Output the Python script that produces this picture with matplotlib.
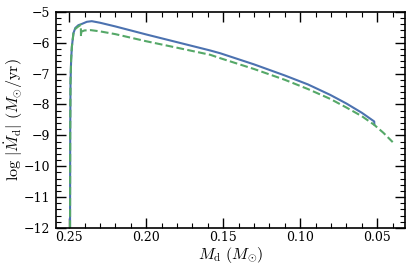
import matplotlib
matplotlib.use("Agg")
import matplotlib.pyplot as plt
from matplotlib.ticker import MultipleLocator

plt.rcParams['font.family'] = 'DejaVu Serif'
plt.rcParams['mathtext.fontset'] = 'cm'

# donor mass (Msun) and log mass transfer rate (Msun/yr)
md_a = [0.2494, 0.2493, 0.2491, 0.2487, 0.2482, 0.2472, 0.2460, 0.2440, 0.2418,
        0.2385, 0.2353, 0.2300, 0.2200, 0.2000, 0.1800, 0.1584, 0.1519, 0.1300,
        0.1100, 0.0950, 0.0805, 0.0700, 0.0600, 0.0520, 0.0519]
log_a = [-12.0, -9.0, -7.3, -6.55, -6.12, -5.69, -5.52, -5.43, -5.39,
         -5.32, -5.30, -5.35, -5.47, -5.73, -5.98, -6.25, -6.34, -6.70,
         -7.06, -7.35, -7.69, -7.97, -8.27, -8.55, -8.65]

md_b = [0.2494, 0.2493, 0.2491, 0.2487, 0.2482, 0.2472, 0.2460, 0.2440, 0.2424,
        0.2423, 0.2421, 0.2400, 0.2360, 0.2300, 0.2200, 0.2000, 0.1800, 0.1584,
        0.1519, 0.1300, 0.1100, 0.0950, 0.0805, 0.0700, 0.0600, 0.0520, 0.0460,
        0.0400]
log_b = [-12.0, -9.0, -7.3, -6.55, -6.12, -5.70, -5.55, -5.47, -5.42,
         -5.80, -5.64, -5.60, -5.59, -5.63, -5.72, -5.95, -6.16, -6.39,
         -6.50, -6.85, -7.20, -7.50, -7.82, -8.10, -8.38, -8.66, -8.92,
         -9.22]

fig = plt.figure(figsize=(4.15, 2.65), dpi=100)
ax = fig.add_axes([0.135, 0.14, 0.841, 0.815])

ax.plot(md_a, log_a, color='#4c72b0', lw=1.5)
ax.plot(md_b, log_b, color='#55a868', lw=1.5, ls='--')

ax.set_xlim(0.2585, 0.032)
ax.set_ylim(-12, -5)
ax.xaxis.set_major_locator(MultipleLocator(0.05))
ax.xaxis.set_minor_locator(MultipleLocator(0.01))
ax.yaxis.set_major_locator(MultipleLocator(1))
ax.yaxis.set_minor_locator(MultipleLocator(0.2))
ax.tick_params(which='both', direction='in', top=True, right=True, labelsize=9)
ax.tick_params(which='major', length=7, width=1)
ax.tick_params(which='minor', length=3.5, width=0.8)
ax.tick_params(axis='y', pad=4.5)
ax.tick_params(axis='x', pad=2)
ax.set_xticks([0.25, 0.20, 0.15, 0.10, 0.05])
ax.set_xticklabels(['0.25', '0.20', '0.15', '0.10', '0.05'])
for s in ax.spines.values():
    s.set_linewidth(1.2)

ax.set_xlabel(r'$M_{\rm d}\ (M_{\odot})$', fontsize=11.5)
ax.set_ylabel(r'$\log\,|\dot{M}_{\rm d}|\ (M_{\odot}/{\rm yr})$', fontsize=11.5)
ax.xaxis.set_label_coords(0.5, -0.08)
ax.yaxis.set_label_coords(-0.088, 0.5)

fig.savefig('out.png', dpi=100)
